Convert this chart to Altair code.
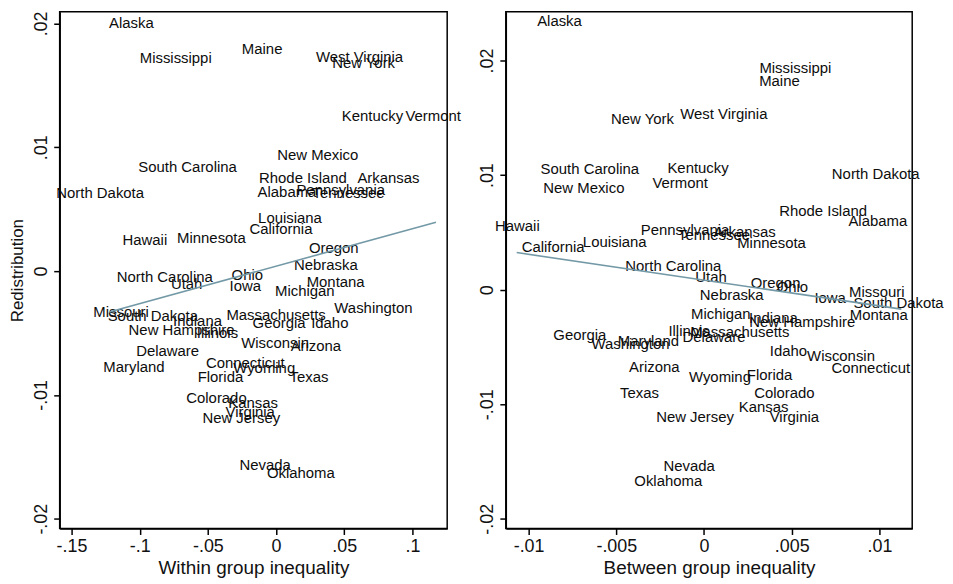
import altair as alt
import pandas as pd

FONT = "Liberation Sans"

states = [
    "Alaska", "Mississippi", "Maine", "West Virginia", "New York", "Kentucky", "Vermont",
    "New Mexico", "South Carolina", "North Dakota", "Rhode Island", "Arkansas", "Alabama",
    "Pennsylvania", "Tennessee", "Louisiana", "California", "Minnesota", "Hawaii", "Oregon",
    "Nebraska", "Ohio", "Iowa", "Montana", "Michigan", "North Carolina", "Utah", "Missouri",
    "South Dakota", "Indiana", "New Hampshire", "Illinois", "Massachusetts", "Georgia", "Idaho",
    "Washington", "Wisconsin", "Arizona", "Delaware", "Maryland", "Connecticut", "Wyoming",
    "Florida", "Texas", "Colorado", "Kansas", "Virginia", "New Jersey", "Nevada", "Oklahoma",
]

# Within group inequality panel
within_x = [
    -0.1061, -0.0736, -0.0102, 0.0612, 0.0642, 0.0707, 0.1152,
    0.0306, -0.0649, -0.1290, 0.0197, 0.0824, 0.0080,
    0.0474, 0.0532, 0.0102, 0.0036, -0.0474, -0.0962, 0.0423,
    0.0365, -0.0211, -0.0226, 0.0437, 0.0211, -0.0816, -0.0656, -0.1137,
    -0.0904, -0.0576, -0.0693, -0.0430, 0.0000, 0.0022, 0.0394,
    0.0714, -0.0007, 0.0292, -0.0795, -0.1042, -0.0226, -0.0087,
    -0.0408, 0.0241, -0.0437, -0.0168, -0.0190, -0.0255, -0.0080, 0.0182,
]
within_y = [
    0.01991, 0.01708, 0.01779, 0.01716, 0.01668, 0.01236, 0.01236,
    0.00921, 0.00826, 0.00614, 0.00732, 0.00732, 0.00622,
    0.00637, 0.00614, 0.00409, 0.00323, 0.00252, 0.00236, 0.00173,
    0.00031, -0.00047, -0.00134, -0.00102, -0.00181, -0.00063, -0.00118, -0.00346,
    -0.00378, -0.00417, -0.00496, -0.00519, -0.00370, -0.00433, -0.00433,
    -0.00315, -0.00598, -0.00622, -0.00661, -0.00795, -0.00756, -0.00803,
    -0.00874, -0.00874, -0.01039, -0.01078, -0.01157, -0.01204, -0.01582, -0.01645,
]

# Between group inequality panel
between_x = [
    -0.00824, 0.00521, 0.00430, 0.00113, -0.00351, -0.00034, -0.00136,
    -0.00685, -0.00651, 0.00979, 0.00679, 0.00232, 0.00991,
    -0.00108, 0.00057, -0.00509, -0.00860, 0.00385, -0.01064, 0.00408,
    0.00158, 0.00504, 0.00719, 0.00996, 0.00096, -0.00175, 0.00040, 0.00985,
    0.01109, 0.00396, 0.00560, -0.00085, 0.00204, -0.00708, 0.00481,
    -0.00419, 0.00781, -0.00283, 0.00057, -0.00317, 0.00951, 0.00091,
    0.00374, -0.00368, 0.00458, 0.00340, 0.00515, -0.00051, -0.00085, -0.00204,
]
between_y = [
    0.02328, 0.01919, 0.01800, 0.01518, 0.01476, 0.01049, 0.00913,
    0.00870, 0.01032, 0.00989, 0.00665, 0.00486, 0.00580,
    0.00503, 0.00461, 0.00401, 0.00358, 0.00392, 0.00537, 0.00043,
    -0.00068, 0.00009, -0.00094, -0.00239, -0.00230, 0.00188, 0.00094, -0.00034,
    -0.00136, -0.00264, -0.00299, -0.00375, -0.00384, -0.00409, -0.00554,
    -0.00495, -0.00597, -0.00691, -0.00427, -0.00469, -0.00699, -0.00776,
    -0.00759, -0.00921, -0.00921, -0.01041, -0.01126, -0.01126, -0.01553, -0.01689,
]

# Fitted lines (end points)
within_fit_x = [-0.1223, 0.1173]
within_fit_y = [-0.0033, 0.00394]
between_fit_x = [-0.01068, 0.01125]
between_fit_y = [0.00324, -0.0017]

# Ticks
within_ticks = [-0.15, -0.1, -0.05, 0, 0.05, 0.1]
within_tick_text = ["-.15", "-.1", "-.05", "0", ".05", ".1"]
between_ticks = [-0.01, -0.005, 0, 0.005, 0.01]
between_tick_text = ["-.01", "-.005", "0", ".005", ".01"]
y_ticks = [-0.02, -0.01, 0, 0.01, 0.02]
y_tick_text = ["-.02", "-.01", "0", ".01", ".02"]


def label_expr(vals, texts):
    parts = [f"abs(datum.value - ({v})) < 1e-9 ? '{t}'" for v, t in zip(vals, texts)]
    return " : ".join(parts) + " : ''"


H = 520
LINE_COLOR = "#7399a6"


def panel(xs, ys, fx, fy, xdom, ydom, xticks, xtexts, xtitle, ytitle, width):
    df = pd.DataFrame({"state": states, "x": xs, "y": ys})
    fit = pd.DataFrame({"x": fx, "y": fy})
    xaxis = alt.Axis(values=xticks, labelExpr=label_expr(xticks, xtexts), title=xtitle,
                     titleFontSize=19, titlePadding=3)
    yaxis = alt.Axis(values=y_ticks, labelExpr=label_expr(y_ticks, y_tick_text),
                     labelAngle=270, title=ytitle, titleFontSize=17, titlePadding=6)
    xs_ = alt.Scale(domain=xdom, nice=False, zero=False)
    ys_ = alt.Scale(domain=ydom, nice=False, zero=False)
    text = alt.Chart(df).mark_text(
        align="center", baseline="middle", dy=-2, fontSize=15, font=FONT, color="#0d0d0d"
    ).encode(
        x=alt.X("x:Q", scale=xs_, axis=xaxis),
        y=alt.Y("y:Q", scale=ys_, axis=yaxis),
        text="state:N",
    )
    line = alt.Chart(fit).mark_line(color=LINE_COLOR, strokeWidth=1.6).encode(
        x=alt.X("x:Q", scale=xs_),
        y=alt.Y("y:Q", scale=ys_),
    )
    return alt.layer(text, line).properties(width=width, height=H)


left = panel(within_x, within_y, within_fit_x, within_fit_y,
             [-0.1587, 0.1255], [-0.02079, 0.02094],
             within_ticks, within_tick_text, "Within group inequality", "Redistribution", 390)
right = panel(between_x, between_y, between_fit_x, between_fit_y,
              [-0.0113, 0.01187], [-0.02085, 0.02426],
              between_ticks, between_tick_text, "Between group inequality", None, 409)

chart = alt.hconcat(left, right, spacing=59, bounds="flush").properties(
    padding={"left": 0, "top": 0, "right": 0, "bottom": 0}
).configure_view(
    stroke="black", strokeWidth=1.5
).configure_axis(
    grid=False,
    domainColor="black", domainWidth=1.5,
    tickColor="black", tickWidth=1.5, tickSize=6,
    labelFont=FONT, labelFontSize=18, labelColor="#111111", labelPadding=3,
    titleFont=FONT, titleFontWeight="normal", titleColor="#111111",
)

chart.save("out.html", embed_options={"renderer": "svg", "actions": False})
